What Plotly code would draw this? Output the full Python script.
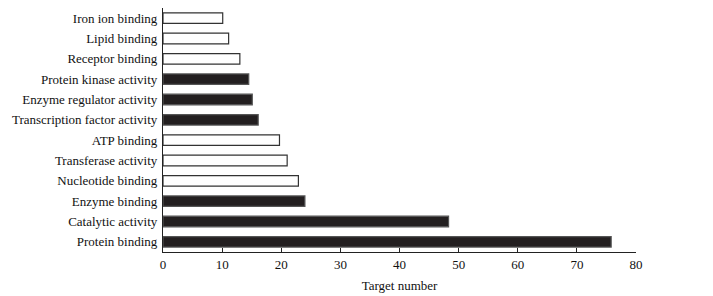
import plotly.graph_objects as go

categories = ["Protein binding", "Catalytic activity", "Enzyme binding", "Nucleotide binding",
              "Transferase activity", "ATP binding", "Transcription factor activity",
              "Enzyme regulator activity", "Protein kinase activity", "Receptor binding",
              "Lipid binding", "Iron ion binding"]
values = [75.8, 48.3, 24.0, 22.9, 21.0, 19.7, 16.1, 15.1, 14.5, 13.0, 11.1, 10.1]
filled = [True, True, True, False, False, False, True, True, True, False, False, False]

colors = ["#231f20" if f else "#ffffff" for f in filled]
lines = ["#555555" if f else "#333333" for f in filled]

fig = go.Figure(go.Bar(
    x=values, y=categories, orientation="h",
    marker=dict(color=colors, line=dict(color=lines, width=1.2)),
    width=0.52,
))

# page body has an 8px default margin; the figure is sized to compensate
font_family = "Liberation Serif, Times New Roman, serif"
fig.update_layout(
    width=705, height=288,
    margin=dict(l=155, r=77, t=0, b=44),
    plot_bgcolor="white", paper_bgcolor="white",
    font=dict(family=font_family, size=13, color="#111111"),
    showlegend=False,
    xaxis=dict(range=[0, 80], tickvals=[0, 10, 20, 30, 40, 50, 60, 70, 80],
               ticks="inside", ticklen=4, tickcolor="#222222",
               showline=True, linecolor="#222222", linewidth=1.2,
               showgrid=False, zeroline=False, automargin=False,
               title=dict(text="Target number", standoff=10, font=dict(size=13)),
               tickfont=dict(size=13)),
    yaxis=dict(range=[-0.5, 11.5], showline=True, linecolor="#222222", linewidth=1.2,
               ticks="", showgrid=False, zeroline=False, ticklabelstandoff=2,
               automargin=False, tickfont=dict(size=13)),
)

fig.write_html("out.html")
